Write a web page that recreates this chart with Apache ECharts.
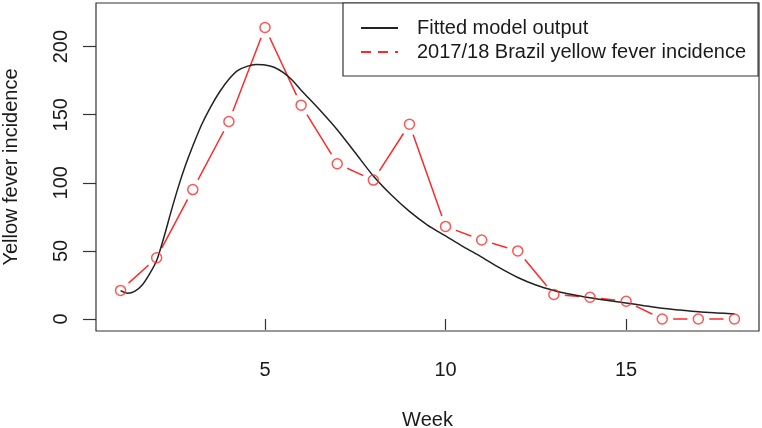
<!DOCTYPE html>
<html>
<head>
<meta charset="utf-8">
<script src="https://cdn.jsdelivr.net/npm/echarts@6/dist/echarts.min.js"></script>
<style>
html,body{margin:0;padding:0;background:#fff;}
#chart{width:762px;height:428px;}
</style>
</head>
<body>
<div id="chart"></div>
<script>
// Observed weekly incidence
const weeks = [1,2,3,4,5,6,7,8,9,10,11,12,13,14,15,16,17,18];
const incidence = [21,45,95,145,214,157,114,102,143,68,58,50,18,16,13,0,0,0];
// Fitted model curve
const fitWeeks = [1.0,1.2,1.4,1.6,1.8,2.0,2.2,2.4,2.6,2.8,3.0,3.25,3.5,3.75,4.0,4.25,4.5,4.75,5.0,5.25,5.5,5.75,6.0,6.5,7.0,7.5,8.0,8.5,9.0,9.5,10.0,10.5,11.0,11.5,12.0,12.5,13.0,13.5,14.0,14.5,15.0,15.5,16.0,16.5,17.0,17.5,18.0];
const fitValues = [20.8,18.9,20.5,25,33,43,60,79,97,113,127,143,156,167,176,182.5,185.5,186.8,186.5,184.8,181,175.5,168,154,139,122,105,91,79,69,61,53,45.5,37.5,30.5,25,21,18,15.6,13.6,11.8,9.8,7.9,6.6,5.4,4.5,3.7];
// Tick labels
const xTicks = [5,10,15];
const yTicks = [0,50,100,150,200];

const nameFit = 'Fitted model output';
const nameObs = '2017/18 Brazil yellow fever incidence';

const obsPairs = weeks.map((w,i)=>[w,incidence[i]]);
const fitPairs = fitWeeks.map((w,i)=>[w,fitValues[i]]);

const font = 'Liberation Sans, Arial, Helvetica, sans-serif';
const txt = '#1a1a1a';

const chart = echarts.init(document.getElementById('chart'), null, {renderer:'canvas'});
chart.setOption({
  animation:false,
  backgroundColor:'#fff',
  textStyle:{fontFamily:font},
  grid:{left:96,right:3,top:3,bottom:97,show:true,borderColor:'#333',borderWidth:1.2,backgroundColor:'transparent',containLabel:false,outerBoundsMode:'none'},
  legend:{
    data:[
      {name:nameFit, itemStyle:{opacity:0}},
      {name:nameObs, itemStyle:{opacity:0}, lineStyle:{type:[10,7]}}
    ],
    orient:'vertical',
    left:343, top:3,
    itemWidth:37, itemHeight:14, itemGap:4,
    padding:[15,12,14,17],
    backgroundColor:'#fff',
    borderColor:'#333', borderWidth:1.2, borderRadius:0,
    selectedMode:false,
    textStyle:{fontSize:20,color:txt,fontFamily:font,lineHeight:20,padding:[0,0,0,14]}
  },
  xAxis:{
    type:'value', min:0.32, max:18.68,
    name:'Week', nameLocation:'middle', nameGap:79,
    nameTextStyle:{fontSize:20,color:txt,fontFamily:font},
    axisLine:{show:false},
    splitLine:{show:false},
    axisTick:{show:true,length:11,customValues:xTicks,lineStyle:{color:'#333',width:1.2}},
    axisLabel:{customValues:xTicks,fontSize:20,color:txt,margin:29,fontFamily:font}
  },
  yAxis:{
    type:'value', min:-8.8, max:232,
    name:'Yellow fever incidence', nameLocation:'middle', nameGap:75, nameRotate:90,
    nameTextStyle:{fontSize:20,color:txt,fontFamily:font},
    axisLine:{show:false},
    splitLine:{show:false},
    axisTick:{show:true,length:13,customValues:yTicks,lineStyle:{color:'#333',width:1.2}},
    axisLabel:{customValues:yTicks,fontSize:20,color:txt,margin:25,rotate:90,fontFamily:font}
  },
  series:[
    {
      name:nameObs, type:'line', data:obsPairs, symbol:'none', z:2,
      lineStyle:{color:'#ff2a2a',width:1.5}, itemStyle:{color:'#ff2a2a'}
    },
    {
      name:'mask', type:'scatter', data:obsPairs, symbol:'circle', symbolSize:22, z:3, silent:true,
      itemStyle:{color:'#fff',opacity:1}
    },
    {
      name:nameFit, type:'line', data:fitPairs, symbol:'none', smooth:0.3, z:4,
      lineStyle:{color:'#222',width:1.5}, itemStyle:{color:'#222'}
    },
    {
      name:'points', type:'scatter', data:obsPairs, symbol:'circle', symbolSize:10, z:5, silent:true,
      itemStyle:{color:'rgba(255,255,255,0)',borderColor:'#ff2a2a',borderWidth:1.5}
    }
  ]
});
</script>
</body>
</html>
